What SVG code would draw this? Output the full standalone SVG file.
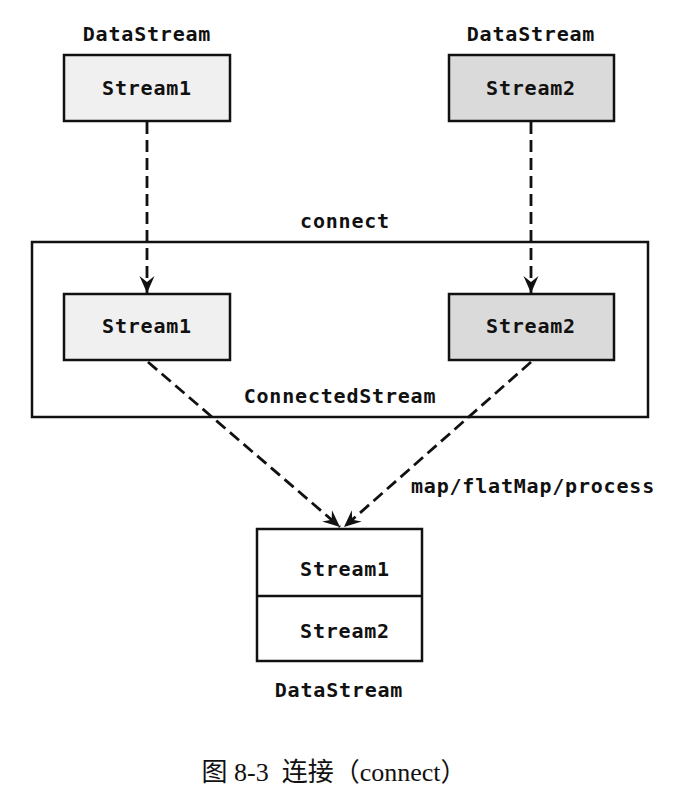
<svg xmlns="http://www.w3.org/2000/svg" width="689" height="804" viewBox="0 0 689 804">
<style>
.t{font-family:"DejaVu Sans Mono","Liberation Mono",monospace;font-weight:bold;font-size:20px;letter-spacing:0.8px;fill:#111;text-anchor:middle}
.box{stroke:#111;stroke-width:2.5}
.s1{fill:#f0f0f0}
.s2{fill:#dadada}
.w{fill:#fff}
.edge{fill:none;stroke:#111;stroke-width:2.8;stroke-dasharray:12 6}
.cap{font-family:"Liberation Serif","Noto Sans CJK SC",serif;font-size:26px;fill:#111;text-anchor:middle;white-space:pre}
</style>
<defs>
<marker id="ah" viewBox="0 0 18 18" refX="17" refY="9" markerWidth="18" markerHeight="18" markerUnits="userSpaceOnUse" orient="auto">
<path d="M0,1.5 L17,9 L0,16.5 L6,9 Z" fill="#111"/>
</marker>
</defs>
<rect width="689" height="804" fill="#fff"/>
<g id="ds1">
<text class="t" x="147" y="41">DataStream</text>
<rect class="box s1" x="64" y="55" width="166" height="66"/>
<text class="t" x="147" y="95">Stream1</text>
</g>
<g id="ds2">
<text class="t" x="531" y="41">DataStream</text>
<rect class="box s2" x="449" y="55" width="165" height="66"/>
<text class="t" x="531" y="95">Stream2</text>
</g>
<g id="connected">
<text class="t" x="345" y="228">connect</text>
<rect class="box" fill="none" x="32" y="242" width="616" height="175"/>
<text class="t" x="340" y="403">ConnectedStream</text>
</g>
<g id="cs1">
<rect class="box s1" x="64" y="294" width="166" height="66"/>
<text class="t" x="147" y="333">Stream1</text>
</g>
<g id="cs2">
<rect class="box s2" x="449" y="294" width="165" height="66"/>
<text class="t" x="531" y="333">Stream2</text>
</g>
<g id="out">
<rect class="box w" x="257" y="529" width="165" height="132"/>
<line class="box" x1="257" y1="596" x2="422" y2="596"/>
<text class="t" x="345" y="576">Stream1</text>
<text class="t" x="345" y="638">Stream2</text>
<text class="t" x="339" y="697">DataStream</text>
</g>
<g id="connectors">
<line class="edge" x1="147" y1="122" x2="147" y2="293" marker-end="url(#ah)"/>
<line class="edge" x1="531" y1="122" x2="531" y2="293" marker-end="url(#ah)"/>
<line class="edge" x1="148" y1="362" x2="340" y2="527" marker-end="url(#ah)"/>
<line class="edge" x1="531" y1="362" x2="344" y2="527" marker-end="url(#ah)"/>
<text class="t" x="533" y="493">map/flatMap/process</text>
</g>
<text class="cap" x="334" y="781" xml:space="preserve">图 8-3  连接（connect）</text>
</svg>
